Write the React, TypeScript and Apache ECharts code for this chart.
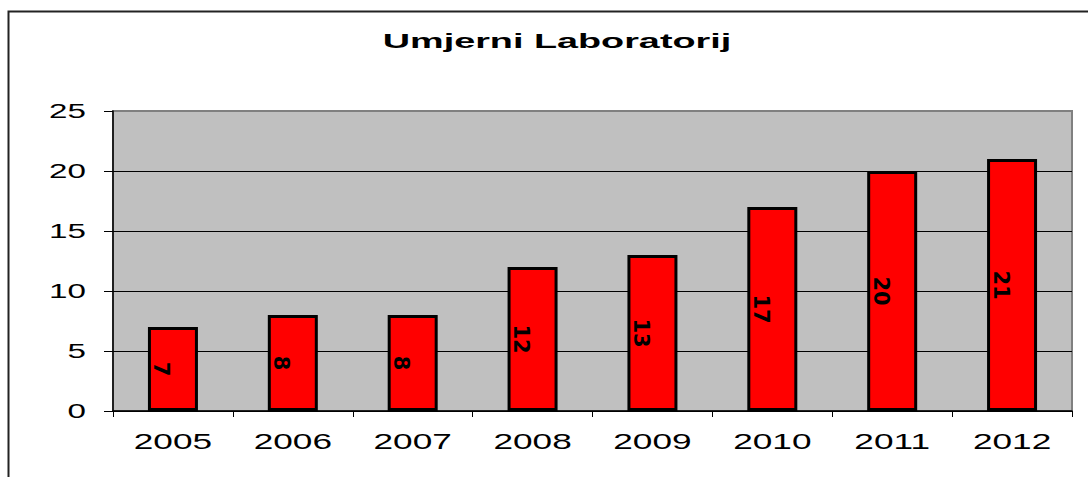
import React, { useEffect, useRef } from "react";
import * as echarts from "echarts";

const title = "Umjerni Laboratorij";
const years = ["2005", "2006", "2007", "2008", "2009", "2010", "2011", "2012"];
const counts = [7, 8, 8, 12, 13, 17, 20, 21];
const yTicks = [0, 5, 10, 15, 20, 25];

export default function App() {
  const ref = useRef<HTMLDivElement>(null);
  useEffect(() => {
    document.body.style.margin = "0";
    if (!ref.current) return;
    const chart = echarts.init(ref.current, null, { renderer: "svg" });
    const gridLeft = 113;
    chart.setOption({
      animation: false,
      backgroundColor: "#ffffff",
      graphic: [
        {
          type: "rect",
          shape: { x: 8.5, y: 11.5, width: 1200, height: 600 },
          style: { fill: "none", stroke: "#222", lineWidth: 2 },
          z: 0,
        },
        {
          type: "text",
          x: 557,
          y: 40,
          scaleX: 1.8,
          style: {
            text: title,
            fontSize: 21,
            fontWeight: "bold",
            fontFamily: "Liberation Sans",
            fill: "#000",
            textAlign: "center",
            textVerticalAlign: "middle",
          },
        },
      ],
      grid: {
        left: gridLeft,
        top: 111,
        width: 959,
        height: 300,
        show: true,
        backgroundColor: "#C0C0C0",
        borderColor: "#808080",
        borderWidth: 2,
      },
      xAxis: {
        type: "category",
        data: years,
        axisLine: { show: true, lineStyle: { color: "#000", width: 1.5 } },
        axisTick: { show: true, length: 6, lineStyle: { color: "#000" } },
        axisLabel: { show: false },
        splitLine: { show: false },
      },
      yAxis: {
        type: "value",
        min: 0,
        max: 25,
        interval: 5,
        axisLine: { show: true, lineStyle: { color: "#000", width: 1.5 } },
        axisTick: { show: true, length: 9, lineStyle: { color: "#000" } },
        axisLabel: { show: false },
        splitLine: {
          show: true,
          lineStyle: { color: ["#000", "#000", "#000", "#000", "#000", "#808080"], width: 1 },
        },
      },
      series: [
        {
          type: "bar",
          data: counts,
          barWidth: 50,
          itemStyle: { color: "#FF0000", borderColor: "#000", borderWidth: 3 },
          label: {
            show: true,
            position: ["27%", "50%"],
            rotate: -90,
            align: "center",
            verticalAlign: "middle",
            fontSize: 21,
            fontWeight: "bold",
            fontFamily: "DejaVu Sans",
            color: "#000",
          },
          z: 3,
        },
        {
          type: "custom",
          silent: true,
          data: years.map((y, i) => [i, 0]),
          renderItem: (params: any, api: any) => {
            const p = api.coord([api.value(0), 0]);
            return {
              type: "text",
              x: p[0],
              y: p[1] + 30,
              scaleX: 1.6,
              style: {
                text: years[params.dataIndex],
                fontSize: 22,
                fontFamily: "Liberation Sans",
                fill: "#000",
                textAlign: "center",
                textVerticalAlign: "middle",
              },
            };
          },
          z: 5,
        },
        {
          type: "custom",
          silent: true,
          data: yTicks.map((v) => [0, v]),
          renderItem: (params: any, api: any) => {
            const p = api.coord([0, api.value(1)]);
            return {
              type: "text",
              x: gridLeft - 27,
              y: p[1],
              scaleX: 1.58,
              style: {
                text: String(yTicks[params.dataIndex]),
                fontSize: 21,
                fontFamily: "Liberation Sans",
                fill: "#000",
                textAlign: "right",
                textVerticalAlign: "middle",
              },
            };
          },
          z: 5,
        },
      ],
    });
    return () => chart.dispose();
  }, []);
  return <div ref={ref} style={{ width: 1088, height: 477 }} />;
}
